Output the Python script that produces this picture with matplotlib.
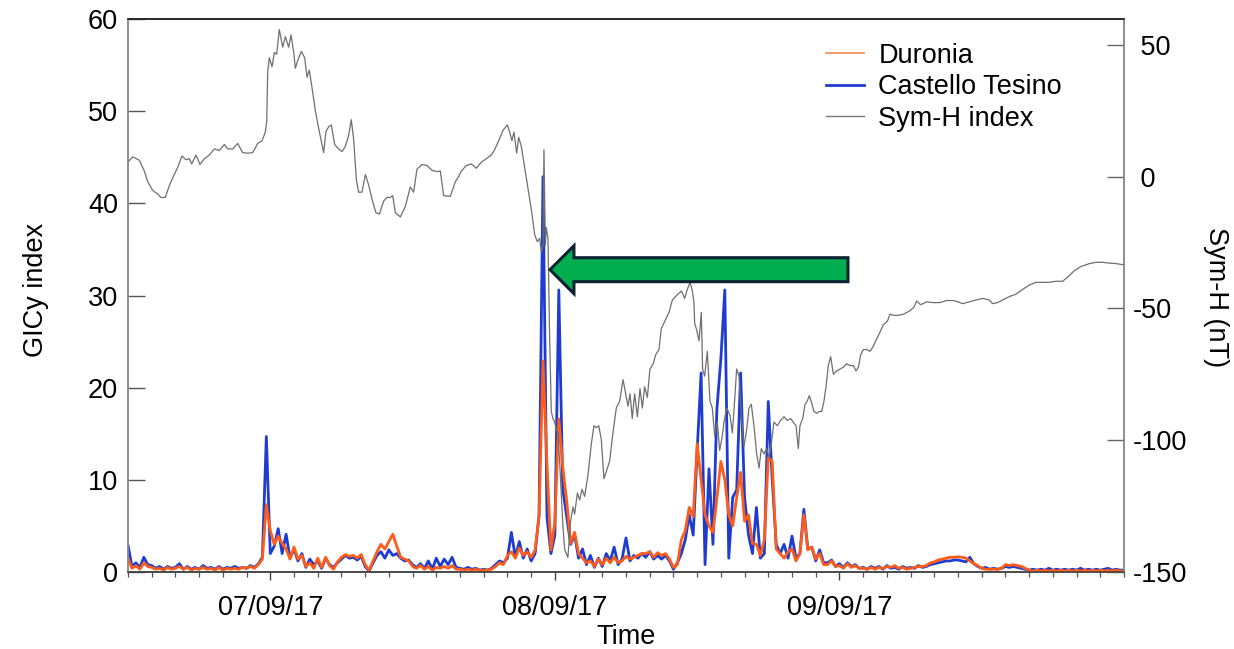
import numpy as np
import matplotlib
matplotlib.use("Agg")
import matplotlib.pyplot as plt
import matplotlib.dates as mdates
from matplotlib.patches import FancyArrow
from matplotlib.lines import Line2D
from datetime import datetime

plt.rcParams['font.family'] = ['Liberation Sans', 'DejaVu Sans']

# ---------------- data ----------------
start_time = datetime(2017, 9, 6, 12, 0)
end_time = datetime(2017, 9, 10, 0, 0)
day_ticks = [datetime(2017, 9, 7), datetime(2017, 9, 8), datetime(2017, 9, 9)]

# Sym-H index (nT): hours after 06/09/17 12:00 and values
symh_hours = [0, 0.4, 0.96, 1.38, 1.66, 2.08, 2.5, 2.78, 3.15, 3.5, 3.9, 4.19, 4.55, 4.89, 5.17, 5.37,
              5.73, 6.07, 6.44, 6.86, 7.28, 7.7, 8.13, 8.41, 8.83, 9.25, 9.67, 10.09, 10.51, 10.94, 11.3,
              11.58, 11.7, 11.78, 11.92, 12.15, 12.34, 12.54, 12.76, 13.05, 13.27, 13.55, 13.75, 14.0,
              14.11, 14.34, 14.62, 14.9, 15.1, 15.29, 15.52, 15.8, 16.08, 16.5, 16.7, 16.92, 17.15, 17.43,
              17.77, 18.05, 18.33, 18.61, 18.83, 19.03, 19.26, 19.45, 19.73, 20.02, 20.3, 20.58, 20.91,
              21.2, 21.56, 21.84, 22.12, 22.32, 22.55, 22.97, 23.39, 23.81, 24.09, 24.37, 24.8, 25.22,
              25.64, 26.06, 26.34, 26.62, 27.18, 27.61, 27.89, 28.11, 28.53, 28.95, 29.38, 29.8, 30.22,
              30.64, 30.92, 31.26, 31.63, 31.99, 32.19, 32.38, 32.55, 32.78, 32.95, 33.17, 33.45, 33.73,
              34.02, 34.3, 34.52, 34.72, 34.86, 35.0, 35.08, 35.2, 35.28, 35.42, 35.56, 35.7, 35.84,
              35.98, 36.12, 36.26, 36.4, 36.55, 36.69, 36.83, 37.1, 37.33, 37.53, 37.67, 37.9, 38.09,
              38.29, 38.51, 38.79, 39.08, 39.3, 39.5, 39.7, 39.92, 40.14, 40.34, 40.62, 40.9, 41.18,
              41.47, 41.75, 41.97, 42.17, 42.34, 42.53, 42.73, 42.96, 43.18, 43.38, 43.57, 43.8, 44.02,
              44.3, 44.5, 44.78, 44.98, 45.34, 45.63, 45.91, 46.33, 46.67, 46.95, 47.17, 47.4, 47.6,
              47.73, 47.79, 47.96, 48.16, 48.35, 48.46, 48.63, 48.86, 49.08, 49.28, 49.48, 49.7, 49.9,
              50.12, 50.26, 50.49, 50.77, 50.97, 51.16, 51.33, 51.53, 51.73, 51.95, 52.18, 52.37, 52.57,
              52.79, 53.02, 53.22, 53.41, 53.64, 53.86, 54.06, 54.26, 54.48, 54.76, 55.04, 55.32, 55.6,
              55.89, 56.11, 56.34, 56.53, 56.67, 56.9, 57.1, 57.29, 57.46, 57.66, 57.85, 58.08, 58.3,
              58.5, 58.7, 58.87, 59.06, 59.26, 59.49, 59.77, 60.05, 60.33, 60.61, 60.89, 61.17, 61.4,
              61.6, 61.79, 62.02, 62.3, 62.58, 62.86, 63.14, 63.42, 63.7, 64.04, 64.26, 64.55, 64.97,
              65.39, 65.95, 66.29, 66.51, 66.85, 67.36, 67.92, 68.48, 69.04, 69.61, 70.0, 70.39, 70.96,
              71.52, 72.08, 72.64, 72.92, 73.34, 73.77, 74.33, 74.89, 75.45, 76.02, 76.58, 77.14, 77.7,
              78.26, 78.83, 79.25, 79.81, 80.37, 81.08, 81.64, 82.2, 82.76, 83.33, 83.89, 84.0]
symh_values = [5.5, 7.5, 6.2, 2.1, -1.9, -5.2, -6.6, -7.9, -7.9, -3.2, 0.8, 3.5, 7.8, 6.4, 6.8, 4.8,
               8.2, 4.6, 6.8, 8.2, 10.5, 9.9, 12.2, 10.5, 10.5, 12.6, 9.1, 8.9, 9.1, 12.6, 13.6,
               16.9, 21.0, 39.7, 45.1, 41.7, 47.1, 46.4, 55.8, 49.1, 53.1, 49.1, 53.8, 46.4,
               41.1, 44.4, 47.5, 45.1, 37.7, 40.4, 33.7, 25.0, 18.3, 9.1, 17.2, 18.9, 19.6, 12.2,
               10.5, 9.5, 11.5, 15.6, 21.6, 14.2, -1.2, -5.9, -5.9, 0.8, -3.2, -8.6, -13.7,
               -14.2, -9.3, -7.9, -7.9, -7.2, -13.7, -15.3, -11.3, -3.9, -5.9, 2.8, 4.6, 4.2,
               2.4, 1.9, 2.1, -7.2, -7.5, -1.9, 0.1, 2.1, 4.2, 4.8, 3.2, 5.5, 6.8,
               8.2, 10.2, 13.6, 17.6, 19.6, 16.9, 13.6, 16.9, 8.9, 14.9, 11.5, 3.5, -4.6,
               -12.6, -22.0, -24.7, -23.4, -28.7, -26.0, 10.2, -26.0, -19.3, -23.4, -60.9, -89.1, -91.8,
               -93.1, -95.8, -97.2, -107.9, -121.3, -133.4, -141.5, -144.5, -130.7, -125.3, -128.0, -120.0, -122.7,
               -118.6, -121.3, -113.3, -101.2, -94.5, -95.2, -94.5, -99.8, -114.6, -111.9, -107.9, -97.2, -87.8,
               -85.1, -77.0, -82.4, -87.1, -82.4, -91.8, -82.4, -91.1, -80.4, -87.8, -79.7, -83.8, -73.0,
               -71.0, -67.6, -65.6, -57.6, -54.2, -51.5, -46.8, -44.8, -43.4, -46.2, -42.8, -40.1, -43.5,
               -47.5, -55.6, -58.2, -62.3, -51.5, -73.0, -75.7, -66.3, -85.1, -87.8, -98.5, -93.1, -103.9,
               -98.5, -93.1, -87.8, -90.5, -97.2, -85.1, -73.0, -75.7, -90.5, -102.5, -95.8, -87.8, -86.4,
               -94.5, -105.2, -110.6, -103.2, -105.2, -103.2, -106.6, -101.2, -93.1, -94.5, -92.5, -91.1, -92.5,
               -91.8, -93.1, -94.5, -103.2, -94.5, -91.8, -86.4, -85.1, -83.1, -85.8, -89.1, -89.8, -89.1,
               -89.1, -85.1, -79.7, -71.7, -68.3, -75.0, -73.7, -73.0, -72.3, -71.0, -71.7, -71.7, -73.7,
               -72.3, -67.6, -65.6, -65.6, -66.3, -64.3, -61.6, -59.0, -56.2, -54.9, -52.2, -52.6, -52.6,
               -52.2, -50.9, -49.5, -47.2, -48.6, -47.5, -47.8, -47.8, -47.0, -47.0, -47.5, -48.2, -47.5,
               -46.8, -46.2, -46.8, -48.2, -47.8, -46.8, -45.5, -44.6, -42.8, -41.1, -40.1, -40.1, -40.1,
               -39.7, -39.7, -38.1, -35.7, -34.1, -33.0, -32.5, -32.5, -32.8, -33.0, -33.4, -33.4]

# GICy index, one value every 20 minutes (3 per hour) from 06/09/17 12:00
gic_step_hours = 1.0 / 3.0
castello_tesino = [
    2.9, 0.6, 1.0,  0.5, 1.6, 0.8,  0.7, 0.4, 0.6,  0.3, 0.6, 0.4,  0.5, 0.9, 0.3,
    0.6, 0.3, 0.5,  0.3, 0.7, 0.4,  0.5, 0.3, 0.6,  0.3, 0.5, 0.4,  0.6, 0.4, 0.5,
    0.4, 0.7, 0.5,  0.9, 1.6, 14.7, 2.0, 2.8, 4.7,  2.0, 4.1, 1.5,  2.5, 1.2, 2.0,
    0.5, 1.4, 0.8,  1.2, 0.4, 1.5,  0.8, 0.5, 1.0,  1.4, 1.8, 1.5,  1.6, 1.3, 1.7,
    0.6, 0.1, 1.0,  1.8, 2.2, 1.5,  2.4, 1.8, 2.0,  1.5, 1.2, 1.3,  0.8, 0.5, 0.9,
    0.4, 1.2, 0.3,  1.5, 0.6, 1.4,  0.8, 1.6, 0.5,  0.4, 0.3, 0.5,  0.3, 0.4, 0.2,
    0.3, 0.2, 0.4,  0.8, 1.2, 1.0,  1.5, 4.3, 1.6,  3.3, 1.5, 2.5,  1.2, 2.0, 6.2,
    42.9, 6.0, 2.0, 4.0, 30.6, 9.0, 6.0, 3.0, 4.0,  1.5, 2.5, 0.8,  1.8, 0.5, 1.5,
    0.6, 2.0, 1.2,  2.7, 0.8, 1.4,  3.7, 1.2, 1.8,  1.5, 2.0, 1.6,  2.2, 1.4, 1.8,
    1.4, 1.8, 1.2,  0.3, 1.0, 2.0,  3.5, 6.2, 4.0,  13.1, 21.6, 0.8, 11.2, 3.0, 17.7,
    23.1, 30.6, 1.5, 8.1, 8.9, 21.6, 8.1, 4.0, 2.0, 7.0, 1.5, 2.0,  18.5, 10.0, 3.0,
    2.0, 3.0, 1.5,  3.9, 1.5, 2.0,  6.8, 2.5, 2.7,  1.2, 2.4, 1.0,  1.0, 1.3, 0.6,
    0.9, 0.5, 1.0,  0.6, 0.8, 0.4,  0.5, 0.3, 0.6,  0.4, 0.6, 0.3,  0.7, 0.4, 0.5,
    0.3, 0.6, 0.4,  0.5, 0.4, 0.7,  0.5, 0.6, 0.8,  0.9, 1.0, 1.1,  1.2, 1.2, 1.3,
    1.3, 1.2, 1.1,  1.6, 0.9, 0.6,  0.4, 0.5, 0.3,  0.4, 0.3, 0.4,  0.6, 0.5, 0.6,
    0.5, 0.4, 0.3,  0.2, 0.3, 0.2,  0.3, 0.2, 0.4,  0.2, 0.3, 0.2,  0.3, 0.2, 0.3,
    0.2, 0.4, 0.2,  0.3, 0.2, 0.3,  0.2, 0.3, 0.4,  0.2, 0.3, 0.2,  0.2]
duronia = [
    1.5, 0.4, 0.7,  0.3, 1.0, 0.6,  0.5, 0.3, 0.4,  0.2, 0.5, 0.3,  0.4, 0.6, 0.3,
    0.5, 0.2, 0.4,  0.3, 0.5, 0.3,  0.4, 0.2, 0.5,  0.2, 0.4, 0.3,  0.4, 0.3, 0.5,
    0.4, 0.6, 0.4,  0.8, 1.4, 7.3,  4.5, 3.0, 3.9,  3.1, 2.5, 1.4,  2.7, 1.4, 1.8,
    0.6, 1.0, 0.4,  1.5, 0.5, 1.6,  0.7, 0.3, 1.1,  1.6, 1.9, 1.7,  1.8, 1.5, 1.9,
    0.8, 0.2, 1.2,  2.2, 3.0, 2.5,  3.3, 4.1, 2.8,  1.6, 1.4, 1.2,  0.6, 0.4, 0.7,
    0.3, 0.6, 0.2,  0.5, 0.4, 0.6,  0.4, 0.7, 0.3,  0.3, 0.2, 0.3,  0.2, 0.3, 0.2,
    0.2, 0.2, 0.3,  0.6, 1.0, 0.8,  1.8, 2.2, 1.5,  2.6, 1.8, 2.2,  1.6, 2.4, 6.0,
    22.9, 11.8, 2.4, 5.4, 16.6, 11.4, 7.7, 3.1, 4.3, 2.0, 1.5, 1.0, 1.2, 0.6, 1.4,
    0.8, 1.5, 1.0,  1.6, 1.0, 1.2,  1.7, 1.4, 1.6,  1.8, 2.0, 2.0,  2.2, 1.6, 2.1,
    1.8, 2.0, 1.4,  0.5, 0.8, 3.5,  4.5, 7.0, 6.0,  13.9, 10.0, 6.2, 5.0, 4.3, 8.0,
    12.0, 10.0, 6.2, 5.0, 8.1, 10.8, 5.5, 6.2, 3.1, 3.0, 1.8, 3.5, 12.4, 12.0, 2.5,
    2.0, 1.5, 2.2,  2.5, 1.2, 2.0,  6.2, 2.4, 2.7,  1.4, 2.0, 0.8,  0.8, 1.2, 0.6,
    0.7, 0.4, 0.9,  0.5, 0.7, 0.4,  0.4, 0.3, 0.5,  0.3, 0.5, 0.4,  0.6, 0.5, 0.7,
    0.4, 0.5, 0.3,  0.4, 0.5, 0.6,  0.6, 0.7, 1.0,  1.1, 1.3, 1.4,  1.5, 1.6, 1.6,
    1.65, 1.6, 1.5, 1.2, 0.9, 0.7,  0.4, 0.3, 0.3,  0.3, 0.3, 0.4,  0.8, 0.7, 0.8,
    0.7, 0.6, 0.4,  0.2, 0.1, 0.2,  0.1, 0.2, 0.1,  0.2, 0.1, 0.2,  0.1, 0.2, 0.1,
    0.2, 0.1, 0.2,  0.1, 0.2, 0.1,  0.2, 0.1, 0.2,  0.1, 0.2, 0.1,  0.1]

gic_ticks = [0, 10, 20, 30, 40, 50, 60]
symh_ticks = [-150, -100, -50, 0, 50]
series_labels = ["Duronia", "Castello Tesino", "Sym-H index"]

# ---------------- plotting ----------------
base = mdates.date2num(start_time)
x_gic = base + np.arange(len(castello_tesino)) * gic_step_hours / 24.0
x_sym = base + np.array(symh_hours) / 24.0

FS = 19.5
c_or = '#FF5B19'
c_bl = '#1E3CD0'
c_gr = '#6F6F6F'

fig = plt.figure(figsize=(12.34, 6.49), dpi=100)
ax = fig.add_axes([128/1234, 1 - 572/649, 996/1234, 553/649])
ax2 = ax.twinx()

ax.plot(x_gic, castello_tesino, color=c_bl, lw=2.0, zorder=2)
ax.plot(x_gic, duronia, color=c_or, lw=2.0, zorder=3)
ax2.plot(x_sym, symh_values, color=c_gr, lw=0.9, zorder=2)

ax.set_xlim(mdates.date2num(start_time), mdates.date2num(end_time))
ax.set_ylim(0, 60)
ax2.set_ylim(-150, 59.8)
ax.set_yticks(gic_ticks)
ax2.set_yticks(symh_ticks)
ax2.set_yticklabels([(' ' + str(v)) if v >= 0 else str(v) for v in symh_ticks])

ax.set_xticks(mdates.date2num(day_ticks))
ax.xaxis.set_minor_locator(mdates.HourLocator(byhour=range(0, 24, 2)))
ax.xaxis.set_major_formatter(mdates.DateFormatter('%d/%m/%y'))

ax.tick_params(axis='x', which='major', direction='out', length=6, width=1,
               color='#444444', labelsize=FS, pad=10.5)
ax.tick_params(axis='x', which='minor', direction='out', length=3.5, width=0.9, color='#555555')
ax.tick_params(axis='y', direction='in', length=12, width=1, color='#555555',
               labelsize=FS, pad=7.2)
ax2.tick_params(axis='y', direction='in', length=12, width=1, color='#666666',
                labelsize=FS, pad=6.5)

for a in (ax, ax2):
    a.spines['left'].set_color('#8a8a8a')
    a.spines['right'].set_color('#8a8a8a')
    a.spines['top'].set_color('#222222')
    a.spines['bottom'].set_color('#444444')
    for s in a.spines.values():
        s.set_linewidth(1.1)

ax.set_xlabel('Time', fontsize=FS, labelpad=2.0)
ax.set_ylabel('GICy index', fontsize=FS)
ax.yaxis.set_label_coords((49 - 128) / 996, 0.51)
ax2.set_ylabel('Sym-H (nT)', fontsize=FS, rotation=270, va='bottom')
ax2.yaxis.set_label_coords((1202.6 - 128) / 996, 0.498)

# legend
handles = [Line2D([], [], color='#F08A4E', lw=1.2),
           Line2D([], [], color=c_bl, lw=2.0),
           Line2D([], [], color='#7a7a7a', lw=1.0)]
ax2.legend(handles, series_labels, loc='upper left', bbox_to_anchor=(0.7008, 0.957),
           frameon=False, fontsize=FS, borderpad=0, borderaxespad=0,
           handlelength=1.4, handletextpad=0.53, labelspacing=0.2)

# green arrow annotation (in time / GICy units)
t_tail, t_tip, y_arrow = 60.72, 35.59, 32.8
arrow = FancyArrow(base + t_tail / 24.0, y_arrow, (t_tip - t_tail) / 24.0, 0,
                   width=2.6, head_width=5.2, head_length=2.02 / 24.0,
                   length_includes_head=True, facecolor='#00AE4F', edgecolor='#0C2233',
                   linewidth=2.2, transform=ax.transData, zorder=5)
ax2.add_patch(arrow)
ax2.set_ylim(-150, 59.8)

fig.savefig('out.png', dpi=100, facecolor='white')
